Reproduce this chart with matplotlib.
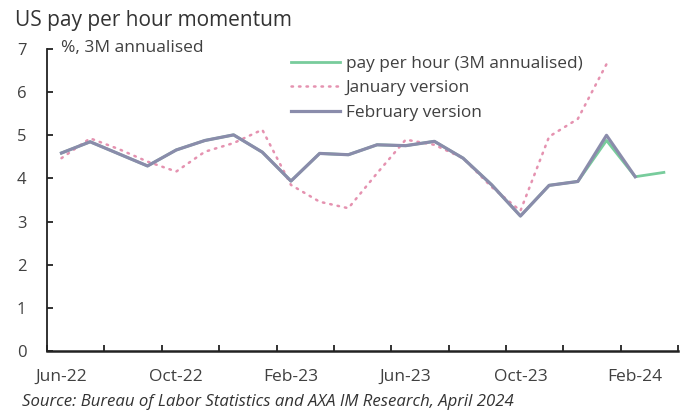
import numpy as np
import matplotlib
matplotlib.use("Agg")
import matplotlib.pyplot as plt

plt.rcParams['font.family'] = ['Open Sans', 'DejaVu Sans']

# monthly categories, Jun-22 .. Mar-24
months = ['Jun-22', 'Jul-22', 'Aug-22', 'Sep-22', 'Oct-22', 'Nov-22', 'Dec-22',
          'Jan-23', 'Feb-23', 'Mar-23', 'Apr-23', 'May-23', 'Jun-23', 'Jul-23',
          'Aug-23', 'Sep-23', 'Oct-23', 'Nov-23', 'Dec-23', 'Jan-24', 'Feb-24',
          'Mar-24']

# latest release, Jun-22 .. Mar-24
pay_per_hour = [4.59, 4.85, 4.57, 4.29, 4.66, 4.88, 5.01, 4.61, 3.94, 4.58,
                4.55, 4.78, 4.76, 4.86, 4.47, 3.85, 3.13, 3.84, 3.93, 4.88,
                4.04, 4.14]
# January release, Jun-22 .. Jan-24
january_version = [4.47, 4.93, 4.68, 4.39, 4.16, 4.62, 4.82, 5.13, 3.85, 3.46,
                   3.31, 4.12, 4.90, 4.78, 4.47, 3.80, 3.25, 4.97, 5.38, 6.65]
# February release, Jun-22 .. Feb-24
february_version = [4.59, 4.85, 4.57, 4.29, 4.66, 4.88, 5.01, 4.61, 3.94, 4.58,
                    4.55, 4.78, 4.76, 4.86, 4.47, 3.85, 3.13, 3.84, 3.93, 5.00,
                    4.04]

green = '#78cc9c'
pink = '#e592b0'
purple = '#8a8cab'
text_col = '#404040'

fig = plt.figure(figsize=(6.83, 4.12), dpi=100)
ax = fig.add_axes([0.069, 0.148, 0.924, 0.733])

x = np.arange(len(months))
ax.plot(x[:len(pay_per_hour)], pay_per_hour, color=green, lw=2.0,
        label='pay per hour (3M annualised)', zorder=2)
ax.plot(x[:len(january_version)], january_version, color=pink, lw=1.8,
        linestyle=(0, (0.6, 2.4)), dash_capstyle='round',
        label='January version', zorder=3)
ax.plot(x[:len(february_version)], february_version, color=purple, lw=2.3,
        label='February version', zorder=4)

ax.set_xlim(-0.5, len(months) - 0.5)
ax.set_ylim(0, 7)

for side in ['top', 'right']:
    ax.spines[side].set_visible(False)
ax.spines['left'].set_color('#222222')
ax.spines['bottom'].set_color('#222222')
ax.spines['left'].set_linewidth(1.3)
ax.spines['bottom'].set_linewidth(1.8)

# tick marks on category boundaries every two months, labels every four
ax.set_xticks(np.arange(-0.5, len(months), 2))
ax.set_xticklabels([])
ax.tick_params(axis='x', which='major', direction='in', length=4, width=1.3,
               color='#222222')
ax.set_xticks(x[::4], minor=True)
ax.set_xticklabels(months[::4], minor=True)
ax.tick_params(axis='x', which='minor', length=0, pad=13, labelsize=12.5,
               labelcolor=text_col)

ax.set_yticks(range(0, 8))
ax.tick_params(axis='y', direction='in', length=4, width=1.3, color='#222222',
               pad=15, labelsize=12, labelcolor=text_col)

ax.text(0.022, 7.02, '%, 3M annualised', transform=ax.get_yaxis_transform(),
        fontsize=12.5, color=text_col, va='center')

ax.legend(loc='upper left', bbox_to_anchor=(0.387, 0.978), frameon=False,
          fontsize=12.4, handlelength=2.85, handletextpad=0.3, labelspacing=0.5,
          labelcolor=text_col, borderaxespad=0, borderpad=0)

fig.text(0.022, 0.951, 'US pay per hour momentum', fontsize=15,
         color='#333333', va='center')
fig.text(0.032, 0.024, 'Source: Bureau of Labor Statistics and AXA IM Research, April 2024',
         fontsize=12.1, style='italic', color='#333333', va='center')

fig.savefig('out.png', dpi=100)
